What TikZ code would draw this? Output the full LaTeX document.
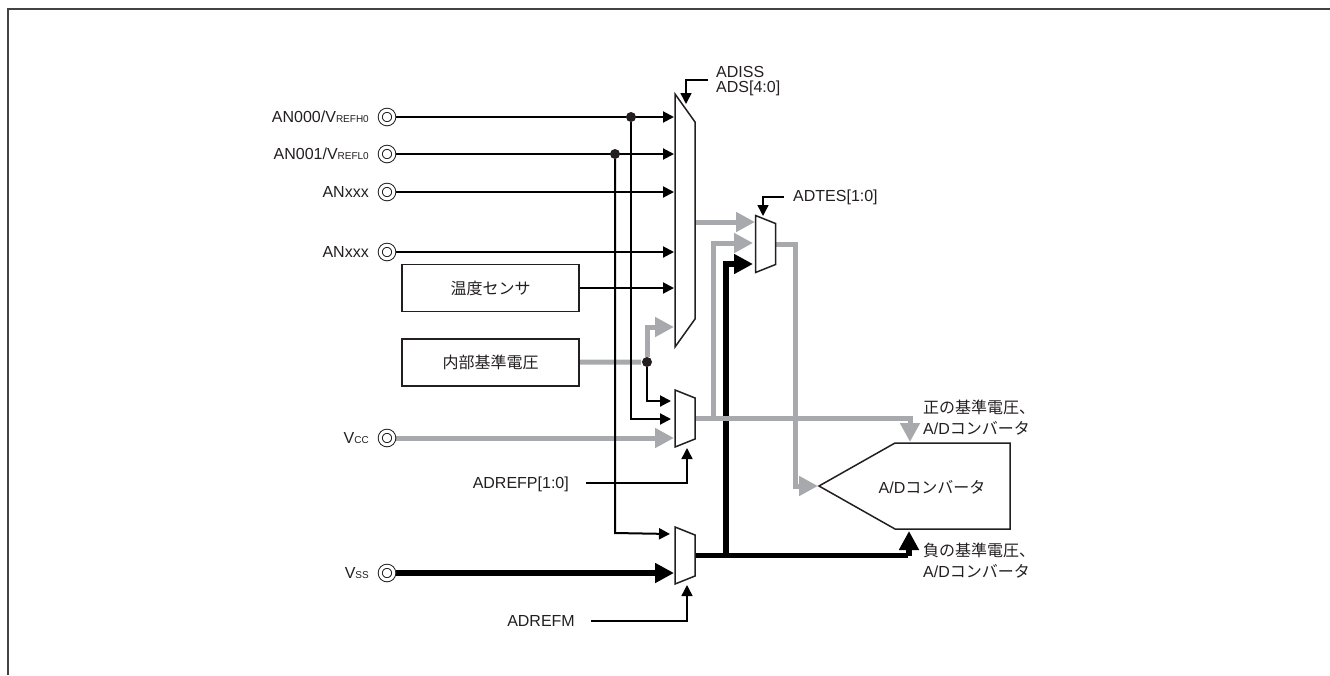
\documentclass[tikz,border=0pt]{standalone}
\usepackage{xcolor}
\usepackage{fontspec}
\setmainfont{Liberation Sans}
\newfontfamily\cjk{Noto Sans CJK JP}
\usepackage{tikz}
\usetikzlibrary{
  arrows.meta,
  positioning,
  shapes.symbols,
  backgrounds
}
\definecolor{busgray}{HTML}{A7A9AC}
\definecolor{inkdark}{HTML}{231F20}
\newcommand{\lowtxt}[1]{{\fontsize{10}{12}\selectfont #1}}
\newcommand{\adctxt}{A/D{\cjk コンバータ}}
% outline of a selector: node name, slant of the short side
\newcommand{\muxoutline}[2]{
  \draw[muxline] (#1.north west) -- ([yshift=-#2]#1.north east)
    -- ([yshift=#2]#1.south east) -- (#1.south west) -- cycle;
}

\begin{document}
\begin{tikzpicture}[
  x=1pt, y=-1pt,
  every node/.style={font=\fontsize{16}{19}\selectfont, text=inkdark},
  pad/.style={
    draw=inkdark, circle, line width=1pt, double=white, double distance=3pt,
    minimum size=13.5pt, inner sep=0pt, outer sep=2pt,
  },
  padtxt/.style={anchor=east, inner sep=0pt},
  ctltxt/.style={anchor=west, inner sep=0pt},
  block/.style={
    draw=inkdark, rectangle, line width=1.5pt, fill=white,
    minimum width=177pt, minimum height=47pt, inner sep=0pt, outer sep=0pt,
  },
  mux/.style={
    rectangle, minimum width=20pt, minimum height=57pt, inner sep=0pt, outer sep=0pt,
  },
  muxline/.style={draw=inkdark, line width=1.5pt, fill=white, line join=miter},
  dot/.style={circle, fill=inkdark, minimum size=10pt, inner sep=0pt, outer sep=0pt},
  sig/.style={-{Triangle[length=11pt,width=11pt]}, line width=2pt, draw=black, shorten >=1pt},
  ctl/.style={-{Triangle[length=11pt,width=11pt]}, line width=1.5pt, draw=black, shorten >=1pt},
  graybus/.style={-{Triangle[length=19pt,width=19pt]}, line width=5pt, draw=busgray, shorten >=1pt},
  blackbus/.style={-{Triangle[length=19pt,width=19pt]}, line width=5.5pt, draw=black, shorten >=1pt},
]
\useasboundingbox (0,0) rectangle (1330,675);

% Outer frame
\draw[line width=1.2pt, draw=inkdark!85] (8,675) -- (8,9) -- (1330,9);

% Pads
\node[pad] (an0) at (387,117) {};
\node[pad] (an1) at (387,154) {};
\node[pad] (an2) at (387,192) {};
\node[pad] (an3) at (387,252) {};
\node[pad] (vcc) at (387,438) {};
\node[pad] (vss) at (387,573) {};

\node[padtxt] (an0txt) at (369,117) {AN000/V\lowtxt{REFH0}};
\node[padtxt] (an1txt) at (369,154) {AN001/V\lowtxt{REFL0}};
\node[padtxt] (an2txt) at (369,192) {ANxxx};
\node[padtxt] (an3txt) at (369,252) {ANxxx};
\node[padtxt] (vcctxt) at (369,438) {V\lowtxt{CC}};
\node[padtxt] (vsstxt) at (369,573) {V\lowtxt{SS}};

% Blocks
\node[block] (temp) at (490.5,288) {\cjk 温度センサ};
\node[block] (vref) at (490.5,362.5) {\cjk 内部基準電圧};

% Multiplexers
\node[mux, minimum height=253pt] (muxa) at (685,220.5) {};
\node[mux] (muxt) at (765.5,244) {};
\node[mux] (muxp) at (685,418.5) {};
\node[mux] (muxm) at (685,555.5) {};
\muxoutline{muxa}{28pt}
\muxoutline{muxt}{8pt}
\muxoutline{muxp}{8pt}
\muxoutline{muxm}{8pt}

% A/D converter
\node[draw=inkdark, line width=1.5pt, shape=signal, signal from=nowhere, signal to=west,
  signal pointer angle=59, minimum width=191pt, minimum height=86pt,
  inner sep=0pt, outer sep=0pt] (adc) at (952.5,486) {};
\node (adctitle) at (932,487) {\adctxt};
\node[ctltxt] (posa) at (923,407) {\cjk 正の基準電圧、};
\node[ctltxt] (posb) at (923,428) {\adctxt};
\node[ctltxt] (nega) at (923,550) {\cjk 負の基準電圧、};
\node[ctltxt] (negb) at (923,571) {\adctxt};

% Junctions
\node[dot] (jrefh) at (631,117) {};
\node[dot] (jrefl) at (615,154) {};
\node[dot] (jvref) at (647,362) {};

% Control labels
\node[ctltxt] (adiss) at (716,72) {ADISS};
\node[ctltxt] (ads) at (716,88) {ADS[4:0]};
\node[ctltxt] (adtes) at (793,197) {ADTES[1:0]};
\node[anchor=east, inner sep=0pt] (adrefp) at (569,484) {ADREFP[1:0]};
\node[anchor=east, inner sep=0pt] (adrefm) at (575,621) {ADREFM};
\coordinate (adsend) at (708,80);
\coordinate (adtesend) at (784,197);
\coordinate (adrefpend) at (586,483);
\coordinate (adrefmend) at (591,621);

\begin{scope}[on background layer]
% Thick black nets
\draw[blackbus] (vss) -- (vss -| muxm.west);
\draw[blackbus, -] (muxm.east) -- (909,555.5);
\draw[blackbus] (909,555.5) -- (909,530);
\draw[blackbus] (726,555) -- (726,264) -- (754,264);

% Gray nets
\draw[graybus] (vcc) -- (vcc -| muxp.west);
\draw[graybus] (muxa.east |- 0,222) -- (756,222);
\draw[graybus] (muxp.east) -- (713,418.5) -- (713,243) -- (754,243);
\draw[graybus] (muxp.east) -- (910,418.5) -- (910,443);
\draw[graybus] (muxt.east) -- (795,244) -- (795,486) -- (adc.west);
\draw[graybus, -] (vref) -- (jvref);
\draw[graybus] (jvref) -- (647,327) -- (muxa.west |- 0,327);

% Thin signals
\draw[sig] (an0) -- (an0 -| muxa.west);
\draw[sig] (an1) -- (an1 -| muxa.west);
\draw[sig] (an2) -- (an2 -| muxa.west);
\draw[sig] (an3) -- (an3 -| muxa.west);
\draw[sig] (temp) -- (temp -| muxa.west);
\draw[sig] (jrefh) -- (631,419) -- (672,419);
\draw[sig] (jrefl) -- (615,533) -- (671,534);
\draw[sig] (jvref) -- (647,401) -- (672,401);

% Control lines
\draw[ctl] (adsend) -- (686,80) -- (686,105);
\draw[ctl] (adtesend) -- (763,197) -- (763,217);
\draw[ctl] (adrefpend) -- (687,483) -- (687,447);
\draw[ctl] (adrefmend) -- (687,621) -- (687,584);
\end{scope}

\end{tikzpicture}
\end{document}
